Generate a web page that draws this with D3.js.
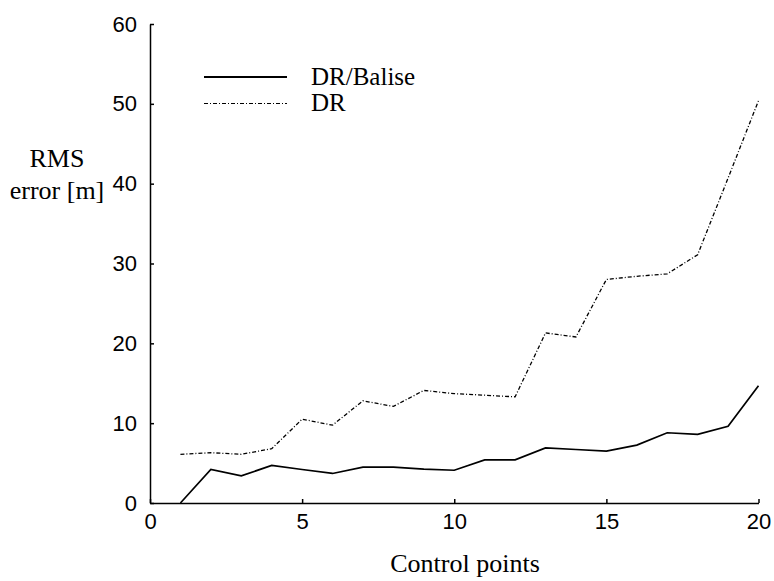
<!DOCTYPE html>
<meta charset="utf-8"/>
<style>
  html, body { margin: 0; padding: 0; background: #fff; }
  .tick text { font-family: "Liberation Sans", Arial, sans-serif; font-size: 22px; fill: #000; }
  text.label { font-family: "Liberation Serif", "Times New Roman", Times, "DejaVu Serif", serif; font-size: 26px; fill: #000; }
  text.legend { font-size: 25px; }
  .domain, .tick line { stroke: #000; stroke-width: 1.5px; }
</style>
<body>
<svg width="774" height="581"></svg>
</body>
<script src="https://d3js.org/d3.v7.min.js"></script>
<script>

  // control point index
  var points = [1, 2, 3, 4, 5, 6, 7, 8, 9, 10, 11, 12, 13, 14, 15, 16, 17, 18, 19, 20]
  // RMS error [m]
  var drBalise = [0, 4.2, 3.4, 4.7, 4.2, 3.7, 4.5, 4.5, 4.25, 4.1, 5.4, 5.4, 6.9, 6.7, 6.5, 7.25, 8.8, 8.6, 9.6, 14.7]
  var dr = [6.1, 6.3, 6.1, 6.8, 10.5, 9.75, 12.8, 12.1, 14.1, 13.7, 13.5, 13.3, 21.3, 20.8, 28.0, 28.4, 28.7, 31.1, 40.7, 50.4]
  var xTicks = [0, 5, 10, 15, 20]
  var yTicks = [0, 10, 20, 30, 40, 50, 60]
  var seriesNames = ["DR/Balise", "DR"]

  var svg = d3.select("svg")

  var x = d3.scaleLinear().domain([0, 20]).range([150, 758.5])
  var y = d3.scaleLinear().domain([0, 60]).range([503, 24])

  svg.append("g")
    .attr("transform", "translate(0,503)")
    .call(d3.axisBottom(x).tickValues(xTicks).tickSizeInner(-4).tickSizeOuter(0).tickPadding(10))

  svg.append("g")
    .attr("transform", "translate(150,0)")
    .call(d3.axisLeft(y).tickValues(yTicks).tickSizeInner(-4).tickSizeOuter(0).tickPadding(13))

  var line = d3.line()
    .x(function (d) { return x(d[0]) })
    .y(function (d) { return y(d[1]) })

  var series = [
    { name: seriesNames[0], values: d3.zip(points, drBalise), dash: null, width: 1.7 },
    { name: seriesNames[1], values: d3.zip(points, dr), dash: "4,2,1,2", width: 1.3 }
  ]

  svg.append("g").selectAll("path")
    .data(series)
    .enter().append("path")
    .attr("fill", "none")
    .attr("stroke", "#000")
    .attr("stroke-width", function (d) { return d.width })
    .attr("stroke-dasharray", function (d) { return d.dash })
    .attr("d", function (d) { return line(d.values) })

  // legend
  var legend = svg.append("g").selectAll("g")
    .data(series)
    .enter().append("g")
    .attr("transform", function (d, i) { return "translate(0," + (77 + i * 26.5) + ")" })

  legend.append("line")
    .attr("x1", 204).attr("x2", 287)
    .attr("stroke", "#000")
    .attr("stroke-width", function (d, i) { return i === 0 ? 2.2 : 1.2 })
    .attr("stroke-dasharray", function (d) { return d.dash })

  legend.append("text")
    .attr("class", "label legend")
    .attr("x", 311)
    .attr("y", 7.5)
    .text(function (d) { return d.name })

  // axis titles
  svg.append("text").attr("class", "label")
    .attr("x", 57).attr("y", 167).attr("text-anchor", "middle").text("RMS")
  svg.append("text").attr("class", "label")
    .attr("x", 57).attr("y", 199).attr("text-anchor", "middle").text("error [m]")
  svg.append("text").attr("class", "label")
    .attr("x", 465).attr("y", 572).attr("text-anchor", "middle").text("Control points")

</script>
